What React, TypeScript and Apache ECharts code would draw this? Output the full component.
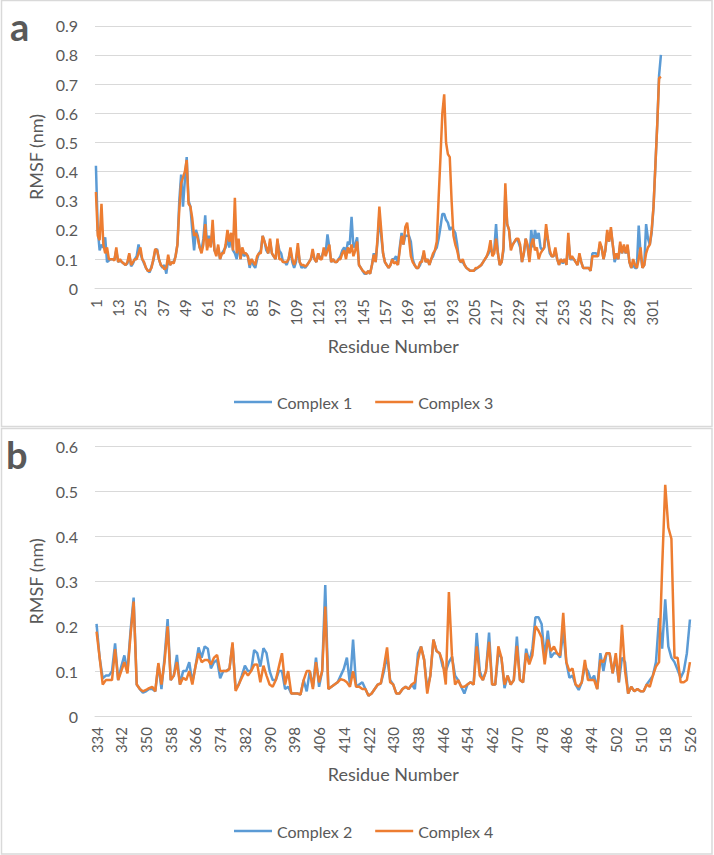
import React, { useEffect, useRef } from "react";
import * as echarts from "echarts";

// ---- Panel a: residues 1..306 (axis has 322 slots, last ones empty) ----
const A_FIRST_RESIDUE = 1;
const A_AXIS_SLOTS = 322;
const A_LABEL_STEP = 12;

const COMPLEX_1 = [
  0.42, 0.2, 0.13, 0.15, 0.14, 0.175, 0.09, 0.095, 0.1, 0.1,
  0.1, 0.13, 0.09, 0.095, 0.09, 0.085, 0.08, 0.085, 0.115, 0.075,
  0.085, 0.1, 0.11, 0.15, 0.12, 0.1, 0.085, 0.07, 0.06, 0.055,
  0.075, 0.095, 0.13, 0.135, 0.1, 0.08, 0.07, 0.08, 0.05, 0.1,
  0.08, 0.09, 0.09, 0.11, 0.15, 0.3, 0.39, 0.28, 0.37, 0.45,
  0.3, 0.28, 0.2, 0.13, 0.2, 0.18, 0.14, 0.13, 0.17, 0.25,
  0.14, 0.18, 0.15, 0.2, 0.13, 0.12, 0.14, 0.1, 0.12, 0.13,
  0.14, 0.17, 0.14, 0.18, 0.13, 0.12, 0.1, 0.16, 0.1, 0.13,
  0.11, 0.12, 0.11, 0.07, 0.1, 0.08, 0.07, 0.1, 0.12, 0.13,
  0.18, 0.16, 0.13, 0.12, 0.16, 0.12, 0.11, 0.1, 0.16, 0.13,
  0.12, 0.09, 0.09, 0.08, 0.1, 0.13, 0.09, 0.07, 0.09, 0.14,
  0.09, 0.07, 0.075, 0.07, 0.08, 0.09, 0.1, 0.12, 0.1, 0.09,
  0.12, 0.1, 0.11, 0.13, 0.12, 0.185, 0.14, 0.09, 0.1, 0.09,
  0.09, 0.1, 0.11, 0.13, 0.14, 0.12, 0.16, 0.15, 0.245, 0.14,
  0.15, 0.175, 0.08, 0.07, 0.06, 0.05, 0.05, 0.06, 0.05, 0.08,
  0.12, 0.09, 0.16, 0.25, 0.18, 0.12, 0.09, 0.08, 0.07, 0.08,
  0.1, 0.1, 0.11, 0.08, 0.14, 0.19, 0.15, 0.18, 0.18, 0.18,
  0.16, 0.1, 0.08, 0.07, 0.07, 0.08, 0.1, 0.12, 0.09, 0.1,
  0.08, 0.1, 0.11, 0.13, 0.14, 0.17, 0.21, 0.255, 0.255, 0.235,
  0.225, 0.2, 0.21, 0.2, 0.19, 0.15, 0.1, 0.09, 0.09, 0.08,
  0.07, 0.065, 0.06, 0.06, 0.06, 0.065, 0.07, 0.075, 0.08, 0.09,
  0.1, 0.11, 0.12, 0.14, 0.12, 0.13, 0.22, 0.12, 0.08, 0.09,
  0.13, 0.33, 0.22, 0.2, 0.14, 0.15, 0.16, 0.17, 0.16, 0.14,
  0.09, 0.12, 0.17, 0.14, 0.1, 0.2, 0.14, 0.2, 0.17, 0.19,
  0.14, 0.13, 0.14, 0.2, 0.16, 0.12, 0.11, 0.11, 0.13, 0.1,
  0.08, 0.1, 0.085, 0.1, 0.08, 0.17, 0.1, 0.1, 0.1, 0.09,
  0.08, 0.11, 0.09, 0.07, 0.07, 0.07, 0.07, 0.06, 0.12, 0.12,
  0.12, 0.11, 0.15, 0.14, 0.1, 0.13, 0.19, 0.16, 0.2, 0.15,
  0.09, 0.11, 0.1, 0.15, 0.12, 0.14, 0.12, 0.14, 0.09, 0.07,
  0.08, 0.07, 0.07, 0.215, 0.12, 0.07, 0.08, 0.22, 0.17, 0.15,
  0.19, 0.28, 0.42, 0.56, 0.73, 0.8,
];

const COMPLEX_3 = [
  0.33, 0.18, 0.165, 0.29, 0.15, 0.12, 0.14, 0.1, 0.1, 0.1,
  0.095, 0.14, 0.09, 0.1, 0.09, 0.085, 0.08, 0.09, 0.12, 0.08,
  0.09, 0.1, 0.1, 0.12, 0.14, 0.1, 0.09, 0.07, 0.06, 0.06,
  0.07, 0.1, 0.135, 0.13, 0.1, 0.08, 0.075, 0.065, 0.07, 0.115,
  0.08, 0.09, 0.085, 0.11, 0.15, 0.27, 0.36, 0.38, 0.4, 0.44,
  0.29, 0.28, 0.24, 0.18, 0.19, 0.17, 0.14, 0.12, 0.15, 0.22,
  0.13, 0.17, 0.14, 0.235, 0.13, 0.11, 0.15, 0.1, 0.12, 0.12,
  0.15, 0.2, 0.16, 0.19, 0.13, 0.31, 0.12, 0.17, 0.1, 0.14,
  0.12, 0.12, 0.11, 0.08, 0.1, 0.09, 0.08, 0.11, 0.12, 0.12,
  0.18, 0.16, 0.14, 0.12, 0.17, 0.12, 0.11, 0.1, 0.17, 0.1,
  0.1, 0.09, 0.09, 0.09, 0.1, 0.14, 0.1, 0.08, 0.1, 0.155,
  0.09, 0.08, 0.08, 0.075, 0.08, 0.09, 0.1, 0.135, 0.1, 0.09,
  0.12, 0.1, 0.1, 0.14, 0.11, 0.13, 0.15, 0.09, 0.1, 0.09,
  0.09, 0.1, 0.1, 0.12, 0.13, 0.1, 0.14, 0.12, 0.15, 0.11,
  0.13, 0.16, 0.08, 0.07, 0.06, 0.055, 0.05, 0.06, 0.05, 0.08,
  0.115, 0.09, 0.17, 0.28, 0.2, 0.12, 0.09, 0.08, 0.07, 0.08,
  0.1, 0.085, 0.09, 0.08, 0.13, 0.18, 0.15, 0.21, 0.225, 0.17,
  0.11, 0.09, 0.08, 0.07, 0.07, 0.09, 0.09, 0.13, 0.09, 0.1,
  0.08, 0.1, 0.12, 0.13, 0.16, 0.31, 0.45, 0.6, 0.665, 0.5,
  0.46, 0.45, 0.3, 0.18, 0.15, 0.13, 0.1, 0.09, 0.1, 0.08,
  0.07, 0.065, 0.06, 0.06, 0.06, 0.07, 0.07, 0.075, 0.08, 0.09,
  0.1, 0.11, 0.13, 0.165, 0.11, 0.12, 0.17, 0.12, 0.08, 0.09,
  0.14, 0.36, 0.22, 0.2, 0.13, 0.15, 0.16, 0.17, 0.17, 0.15,
  0.09, 0.12, 0.17, 0.15, 0.09, 0.15, 0.17, 0.13, 0.14, 0.1,
  0.12, 0.13, 0.14, 0.22, 0.17, 0.13, 0.11, 0.11, 0.14, 0.1,
  0.08, 0.1, 0.09, 0.1, 0.08, 0.19, 0.1, 0.11, 0.1, 0.09,
  0.08, 0.12, 0.09, 0.07, 0.07, 0.07, 0.07, 0.06, 0.11, 0.11,
  0.11, 0.11, 0.16, 0.14, 0.1, 0.13, 0.2, 0.16, 0.21, 0.15,
  0.1, 0.12, 0.1, 0.16, 0.12, 0.15, 0.12, 0.15, 0.09, 0.07,
  0.1, 0.08, 0.07, 0.1, 0.14, 0.07, 0.08, 0.12, 0.14, 0.15,
  0.2, 0.28, 0.42, 0.56, 0.72, 0.725,
];

// ---- Panel b: residues 334..526 ----
const B_FIRST_RESIDUE = 334;
const B_LABEL_STEP = 8;

const COMPLEX_2 = [
  0.205, 0.13, 0.084, 0.09, 0.09, 0.1, 0.162, 0.08, 0.11, 0.135, // 334
  0.1, 0.19, 0.264, 0.07, 0.06, 0.052, 0.055, 0.06, 0.06, 0.055, // 344
  0.115, 0.06, 0.13, 0.216, 0.08, 0.09, 0.136, 0.07, 0.1, 0.1, // 354
  0.12, 0.075, 0.11, 0.153, 0.13, 0.155, 0.15, 0.106, 0.12, 0.125, // 364
  0.084, 0.1, 0.1, 0.105, 0.16, 0.06, 0.07, 0.09, 0.112, 0.1, // 374
  0.1, 0.147, 0.14, 0.11, 0.151, 0.14, 0.1, 0.08, 0.08, 0.1, // 384
  0.1, 0.06, 0.065, 0.05, 0.05, 0.05, 0.048, 0.08, 0.055, 0.1, // 394
  0.065, 0.13, 0.065, 0.1, 0.292, 0.06, 0.065, 0.07, 0.075, 0.09, // 404
  0.105, 0.13, 0.07, 0.17, 0.065, 0.07, 0.075, 0.06, 0.045, 0.05, // 414
  0.06, 0.07, 0.073, 0.1, 0.135, 0.08, 0.07, 0.05, 0.05, 0.06, // 424
  0.065, 0.06, 0.07, 0.06, 0.14, 0.155, 0.125, 0.06, 0.09, 0.17, // 434
  0.145, 0.14, 0.11, 0.1, 0.12, 0.132, 0.09, 0.08, 0.065, 0.05, // 444
  0.07, 0.075, 0.07, 0.185, 0.1, 0.08, 0.1, 0.186, 0.07, 0.07, // 454
  0.14, 0.13, 0.062, 0.09, 0.07, 0.08, 0.177, 0.08, 0.075, 0.15, // 464
  0.12, 0.15, 0.22, 0.22, 0.205, 0.13, 0.19, 0.13, 0.14, 0.14, // 474
  0.13, 0.19, 0.12, 0.085, 0.09, 0.07, 0.058, 0.075, 0.11, 0.1, // 484
  0.08, 0.09, 0.06, 0.14, 0.1, 0.14, 0.14, 0.095, 0.13, 0.075, // 494
  0.13, 0.12, 0.05, 0.065, 0.055, 0.06, 0.055, 0.055, 0.07, 0.08, // 504
  0.09, 0.12, 0.218, 0.15, 0.26, 0.155, 0.13, 0.12, 0.103, 0.085, // 514
  0.1, 0.14, 0.215, // 524
];

const COMPLEX_4 = [
  0.188, 0.13, 0.07, 0.08, 0.08, 0.08, 0.149, 0.08, 0.1, 0.12, // 334
  0.095, 0.18, 0.255, 0.07, 0.06, 0.055, 0.058, 0.062, 0.065, 0.055, // 344
  0.118, 0.07, 0.12, 0.2, 0.08, 0.09, 0.12, 0.07, 0.085, 0.08, // 354
  0.1, 0.07, 0.11, 0.14, 0.12, 0.125, 0.125, 0.115, 0.13, 0.136, // 364
  0.1, 0.1, 0.1, 0.105, 0.164, 0.056, 0.07, 0.085, 0.1, 0.09, // 374
  0.1, 0.114, 0.115, 0.075, 0.112, 0.09, 0.07, 0.065, 0.08, 0.11, // 384
  0.14, 0.07, 0.1, 0.05, 0.05, 0.05, 0.048, 0.08, 0.1, 0.1, // 394
  0.06, 0.12, 0.075, 0.1, 0.244, 0.06, 0.065, 0.07, 0.075, 0.082, // 404
  0.08, 0.075, 0.065, 0.1, 0.065, 0.065, 0.06, 0.06, 0.045, 0.05, // 414
  0.06, 0.07, 0.073, 0.11, 0.153, 0.075, 0.07, 0.05, 0.05, 0.06, // 424
  0.065, 0.06, 0.07, 0.075, 0.125, 0.155, 0.125, 0.05, 0.09, 0.17, // 434
  0.145, 0.14, 0.12, 0.07, 0.276, 0.135, 0.07, 0.08, 0.065, 0.065, // 444
  0.07, 0.075, 0.07, 0.155, 0.09, 0.08, 0.1, 0.165, 0.07, 0.07, // 454
  0.155, 0.13, 0.07, 0.09, 0.07, 0.08, 0.156, 0.08, 0.075, 0.14, // 464
  0.115, 0.135, 0.2, 0.19, 0.175, 0.115, 0.17, 0.145, 0.155, 0.14, // 474
  0.135, 0.23, 0.12, 0.1, 0.106, 0.07, 0.065, 0.075, 0.125, 0.08, // 484
  0.08, 0.08, 0.06, 0.125, 0.12, 0.14, 0.14, 0.095, 0.14, 0.075, // 494
  0.203, 0.1, 0.05, 0.065, 0.055, 0.06, 0.055, 0.055, 0.07, 0.065, // 504
  0.09, 0.11, 0.12, 0.33, 0.515, 0.42, 0.395, 0.13, 0.13, 0.075, // 514
  0.075, 0.08, 0.12, // 524
];

const RESIDUES_A = Array.from({ length: A_AXIS_SLOTS }, (_, i) =>
  i < COMPLEX_1.length ? String(A_FIRST_RESIDUE + i) : ""
);
const RESIDUES_B = COMPLEX_2.map((_, i) => String(B_FIRST_RESIDUE + i));

const Y_MAX_A = 0.9;
const Y_MAX_B = 0.6;
const Y_STEP = 0.1;

const BLUE = "#5B9BD5";
const ORANGE = "#ED7D31";
const TEXT = "#595959";
const GRID = "#d9d9d9";
const FONT = "Lato, 'Open Sans', sans-serif";

function xAxis(gridIndex: number, data: string[], step: number) {
  return {
    type: "category" as const,
    gridIndex,
    data,
    boundaryGap: true,
    name: "Residue Number",
    nameLocation: "middle" as const,
    nameGap: 49,
    nameTextStyle: { color: TEXT, fontSize: 18, fontFamily: FONT },
    axisLine: { show: true, lineStyle: { color: GRID, width: 1 } },
    axisTick: { show: false },
    axisLabel: {
      interval: step - 1,
      rotate: 90,
      margin: 11,
      color: TEXT,
      fontSize: 15,
      fontFamily: FONT,
    },
    splitLine: { show: false },
  };
}

function yAxis(gridIndex: number, max: number) {
  return {
    type: "value" as const,
    gridIndex,
    min: 0,
    max,
    interval: Y_STEP,
    name: "RMSF (nm)",
    nameLocation: "middle" as const,
    nameGap: 47,
    nameTextStyle: { color: TEXT, fontSize: 18, fontFamily: FONT },
    axisLine: { show: false },
    axisTick: { show: false },
    axisLabel: { margin: 17, color: TEXT, fontSize: 16, fontFamily: FONT },
    splitLine: { show: true, lineStyle: { color: GRID, width: 1 } },
  };
}

function line(name: string, data: number[], color: string, idx: number) {
  return {
    type: "line" as const,
    name,
    data,
    xAxisIndex: idx,
    yAxisIndex: idx,
    symbol: "none",
    showSymbol: false,
    color,
    lineStyle: { color, width: 2.5 },
    emphasis: { disabled: true },
  };
}

export default function App() {
  const ref = useRef<HTMLDivElement>(null);

  useEffect(() => {
    if (!ref.current) return;
    const chart = echarts.init(ref.current, undefined, { renderer: "svg" });
    const legendBase = {
      icon: "rect",
      itemWidth: 38,
      itemHeight: 2.5,
      itemGap: 23,
      textStyle: { color: TEXT, fontSize: 16, fontFamily: FONT },
      selectedMode: false,
    };
    chart.setOption({
      animation: false,
      backgroundColor: "#ffffff",
      textStyle: { fontFamily: FONT },
      grid: [
        { left: 95, right: 22.5, top: 25.8, height: 262.5 },
        { left: 95, right: 22.5, top: 446.7, height: 269.3 },
      ],
      xAxis: [xAxis(0, RESIDUES_A, A_LABEL_STEP), xAxis(1, RESIDUES_B, B_LABEL_STEP)],
      yAxis: [yAxis(0, Y_MAX_A), yAxis(1, Y_MAX_B)],
      legend: [
        { ...legendBase, data: ["Complex 1", "Complex 3"], left: 229, top: 389 },
        { ...legendBase, data: ["Complex 2", "Complex 4"], left: 229, top: 818 },
      ],
      series: [
        line("Complex 1", COMPLEX_1, BLUE, 0),
        line("Complex 3", COMPLEX_3, ORANGE, 0),
        line("Complex 2", COMPLEX_2, BLUE, 1),
        line("Complex 4", COMPLEX_4, ORANGE, 1),
      ],
      graphic: [
        {
          type: "rect",
          shape: { x: 1.5, y: 0.5, width: 710.5, height: 426 },
          style: { fill: "none", stroke: GRID, lineWidth: 1.5 },
          silent: true,
        },
        {
          type: "rect",
          shape: { x: 1.5, y: 428.5, width: 710.5, height: 425.5 },
          style: { fill: "none", stroke: GRID, lineWidth: 1.5 },
          silent: true,
        },
        {
          type: "text",
          x: 10,
          y: 26,
          style: {
            text: "a",
            fill: TEXT,
            font: `bold 38px ${FONT}`,
            textAlign: "left",
            textVerticalAlign: "middle",
          },
          silent: true,
        },
        {
          type: "text",
          x: 6,
          y: 453.6,
          style: {
            text: "b",
            fill: TEXT,
            font: `bold 38px ${FONT}`,
            textAlign: "left",
            textVerticalAlign: "middle",
          },
          silent: true,
        },
      ],
    });
    return () => chart.dispose();
  }, []);

  return (
    <div
      ref={ref}
      style={{ position: "absolute", left: 0, top: 0, width: 714, height: 855 }}
    />
  );
}
